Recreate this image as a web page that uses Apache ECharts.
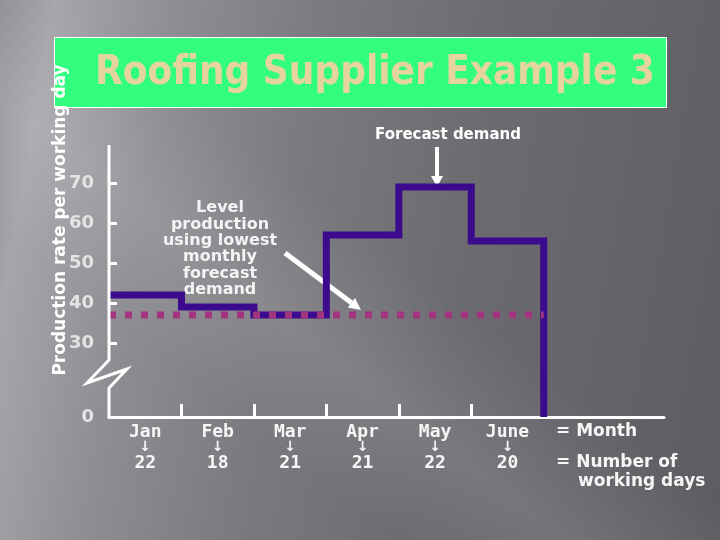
<!DOCTYPE html>
<html><head><meta charset="utf-8">
<script src="https://cdn.jsdelivr.net/npm/echarts@6/dist/echarts.min.js"></script>
<style>
html,body{margin:0;padding:0;width:720px;height:540px;overflow:hidden;}
body{background:
 linear-gradient(38deg, rgba(255,255,255,0) 28%, rgba(255,255,255,0.10) 40%, rgba(255,255,255,0) 54%),
 linear-gradient(100deg, #8f8e93 0%, #a6a5aa 7%, #8e8d92 22%, #7b7a7f 40%, #6c6b70 62%, #5d5c61 100%);}
#chart{width:720px;height:540px;}
</style></head><body><div id="chart"></div>
<script>
// ---- data ----
const months = ['Jan', 'Feb', 'Mar', 'Apr', 'May', 'June'];
const workingDays = [22, 18, 21, 21, 22, 20];
const demandRate = [42, 39, 37, 57, 69, 55.5];   // forecast production rate per working day
const levelRate = 37;                            // level production = lowest monthly forecast
const yTicks = [30, 40, 50, 60, 70];
const yZeroLabel = '0';

// ---- axis config ----
const yMin = 11.5, yMax = 79.5, xMax = 7.66;
const breakHigh = 25.75;

const stepData = demandRate.map((v, i) => [i, v]);
stepData.push([months.length, yMin]);
const levelData = [[0, levelRate], [months.length, levelRate]];

const FONT = 'DejaVu Sans';
const MONO = 'DejaVu Sans Mono';
const chart = echarts.init(document.getElementById('chart'));
const option = {
  backgroundColor: 'transparent',
  animation: false,
  grid: { left: 109, right: 56, top: 145, bottom: 123 },
  xAxis: {
    type: 'value', min: 0, max: xMax,
    splitLine: { show: false },
    axisLine: { show: true, onZero: false, lineStyle: { color: '#ffffff', width: 3 } },
    axisTick: { show: true, inside: true, length: 13, customValues: [1, 2, 3, 4, 5],
      lineStyle: { color: '#ffffff', width: 3 } },
    axisLabel: {
      show: true, margin: 7,
      customValues: months.map((m, i) => i + 0.5),
      formatter: v => { const i = Math.floor(v); return '{m|' + months[i] + '}\n{a|↓}\n{d|' + workingDays[i] + '}'; },
      rich: {
        m: { fontFamily: MONO, fontWeight: 'bold', fontSize: 18, color: '#f6f6f6', lineHeight: 16 },
        a: { fontFamily: FONT, fontWeight: 'bold', fontSize: 14, color: '#f6f6f6', lineHeight: 15 },
        d: { fontFamily: MONO, fontWeight: 'bold', fontSize: 18, color: '#f6f6f6', lineHeight: 16 }
      }
    }
  },
  yAxis: {
    type: 'value', min: yMin, max: yMax,
    splitLine: { show: false },
    axisLine: { show: false },
    axisTick: { show: true, inside: true, length: 8, customValues: yTicks,
      lineStyle: { color: '#ffffff', width: 3 } },
    axisLabel: {
      show: true, margin: 15,
      customValues: [yMin].concat(yTicks),
      formatter: v => (v === yMin ? yZeroLabel : String(v)),
      fontFamily: FONT, fontWeight: 'bold', fontSize: 18, color: '#e4e4e4'
    }
  },
  series: [
    {
      type: 'line', step: 'end', data: stepData, symbol: 'none', z: 3,
      lineStyle: { color: '#3c0a8c', width: 7, join: 'miter', cap: 'butt' }
    },
    {
      type: 'line', data: levelData, symbol: 'none', z: 4,
      lineStyle: { color: '#a1357f', width: 7, type: [7, 9], cap: 'butt' }
    }
  ]
};
chart.setOption(option);

const px = (x, y) => chart.convertToPixel({ gridIndex: 0 }, [x, y]);
const pTop = px(0, yMax), pBrk = px(0, breakHigh), pBot = px(0, yMin);
const ax = pTop[0], by = pBrk[1];
const axisPts = [pTop, pBrk, [ax - 22, by + 23], [ax + 18, by + 9], [ax, by + 28], pBot];

function arrow(x1, y1, x2, y2, head, w) {
  const ang = Math.atan2(y2 - y1, x2 - x1);
  const bx = x2 - head * Math.cos(ang), byy = y2 - head * Math.sin(ang);
  const nx = -Math.sin(ang), ny = Math.cos(ang);
  return [
    { type: 'line', shape: { x1, y1, x2: bx, y2: byy }, style: { stroke: '#ffffff', lineWidth: w } },
    { type: 'polygon', shape: { points: [[x2, y2], [bx + nx * 6, byy + ny * 6], [bx - nx * 6, byy - ny * 6]] },
      style: { fill: '#ffffff' } }
  ];
}

const levelLines = ['Level', 'production', 'using lowest', 'monthly', 'forecast', 'demand'];
const textStyle = (extra) => Object.assign({ fill: '#ffffff', fontFamily: FONT, fontWeight: 'bold' }, extra);

const graphics = [
  { type: 'rect', shape: { x: 54.5, y: 37.5, width: 612, height: 70 },
    style: { fill: '#33fd7e', stroke: '#ffffff', lineWidth: 1 }, z: 1 },
  { type: 'text', x: 375, y: 74, z: 2,
    style: { text: 'Roofing Supplier Example 3', fill: '#e6d4a0', fontFamily: 'DejaVu Sans Condensed, DejaVu Sans', fontWeight: 'bold',
      fontSize: 40, textAlign: 'center', textVerticalAlign: 'middle' } },
  { type: 'text', x: 61, y: 220, rotation: Math.PI / 2, z: 3,
    style: textStyle({ text: 'Production rate per working day', fontSize: 17, textAlign: 'center', textVerticalAlign: 'middle' }) },
  { type: 'polyline', shape: { points: axisPts }, style: { stroke: '#ffffff', lineWidth: 3, fill: null, lineJoin: 'miter' }, z: 5 },
  { type: 'text', x: 448, y: 135, style: textStyle({ text: 'Forecast demand', fontSize: 15, textAlign: 'center', textVerticalAlign: 'middle' }) },
  { type: 'text', x: 556, y: 432, style: textStyle({ text: '= Month', fontSize: 17, textVerticalAlign: 'middle', fill: '#f6f6f6' }) },
  { type: 'text', x: 556, y: 463, style: textStyle({ text: '= Number of', fontSize: 17, textVerticalAlign: 'middle', fill: '#f6f6f6' }) },
  { type: 'text', x: 578, y: 482, style: textStyle({ text: 'working days', fontSize: 17, textVerticalAlign: 'middle', fill: '#f6f6f6' }) }
].concat(
  levelLines.map((t, i) => ({ type: 'text', x: 220, y: 208 + i * 16.4,
    style: textStyle({ text: t, fontSize: 16, textAlign: 'center', textVerticalAlign: 'middle', fill: '#f4f4f4' }) })),
  arrow(437, 147, 437, 187, 11, 4),
  arrow(285, 253, 361, 310, 12, 5)
);
chart.setOption({ graphic: graphics });
</script></body></html>
